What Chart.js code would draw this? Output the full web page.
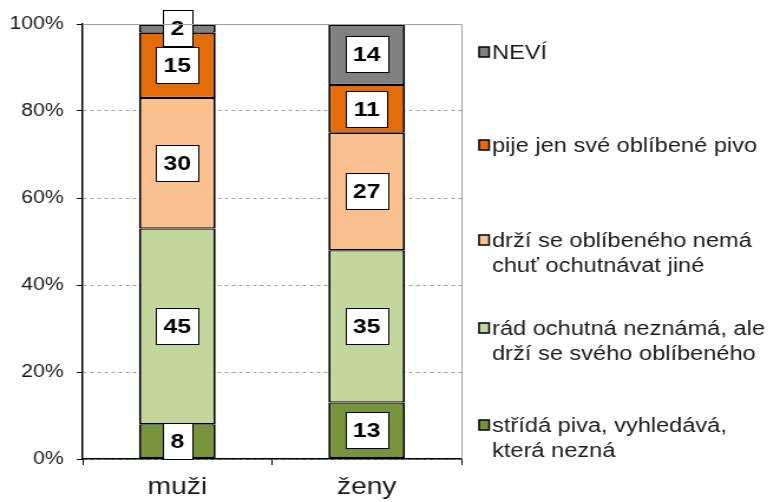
<!DOCTYPE html>
<html>
<head>
<meta charset="utf-8">
<script src="https://cdn.jsdelivr.net/npm/chart.js@4/dist/chart.umd.min.js"></script>
<style>
  html, body { margin: 0; padding: 0; background: #fff; overflow: hidden; }
  /* the original picture is a little wider than tall text would give, so stretch it */
  #wrap { position: relative; width: 658px; height: 502px; transform: scaleX(1.18); transform-origin: 0 0; }
</style>
</head>
<body>
<div id="wrap"><canvas id="chart0" width="658" height="502"></canvas></div>
<script>
// categories and series (bottom to top of the stack)
var categories = ['muži', 'ženy'];
var seriesNames = [
    ['střídá piva, vyhledává,', 'která nezná'],
    ['rád ochutná neznámá, ale', 'drží se svého oblíbeného'],
    ['drží se oblíbeného nemá', 'chuť ochutnávat jiné'],
    ['pije jen své oblíbené pivo'],
    ['NEVÍ']
];
var stridaPiva = [8, 13];
var radOchutna = [45, 35];
var drziSe = [30, 27];
var pijeJen = [15, 11];
var nevi = [2, 14];
var yTicks = [0, 20, 40, 60, 80, 100];

var seriesValues = [stridaPiva, radOchutna, drziSe, pijeJen, nevi];
var seriesColors = ['#77933c', '#c3d69b', '#fac090', '#e46c0a', '#808080'];

var FONT = '"Liberation Sans", Arial, sans-serif';

var last = seriesValues.length - 1;
var datasets = seriesValues.map(function (vals, i) {
    return {
        label: seriesNames[i].join(' '),
        data: vals,
        backgroundColor: seriesColors[i],
        borderColor: '#000',
        // inner joins share one line, outer edges are thicker
        borderWidth: { left: 2, right: 2, top: i === last ? 2 : 1.2, bottom: i === 0 ? 2 : 1.2 },
        borderSkipped: false,
        barPercentage: 0.405,
        categoryPercentage: 1
    };
});

// white boxed value labels in the middle of each segment
var boxLabels = {
    id: 'boxLabels',
    afterDatasetsDraw: function (chart) {
        var ctx = chart.ctx;
        ctx.save();
        ctx.font = 'bold 21px ' + FONT;
        ctx.textAlign = 'center';
        ctx.textBaseline = 'middle';
        chart.data.datasets.forEach(function (ds, di) {
            var meta = chart.getDatasetMeta(di);
            meta.data.forEach(function (bar, i) {
                var txt = String(ds.data[i]);
                var cy = (bar.y + bar.base) / 2;
                var w = Math.round(ctx.measureText(txt).width + 13);
                var h = 36;
                var x0 = Math.round(bar.x - w / 2) + 0.5;
                var y0 = Math.round(cy - h / 2) + 0.5;
                ctx.fillStyle = '#fff';
                ctx.fillRect(x0, y0, w, h);
                ctx.strokeStyle = '#000';
                ctx.lineWidth = 1;
                ctx.strokeRect(x0, y0, w, h);
                ctx.fillStyle = '#000';
                ctx.fillText(txt, bar.x, cy + 1);
            });
        });
        ctx.restore();
    }
};

// legend on the right, top series first
var legendY = [52, 145, 240, 328, 425];
var sideLegend = {
    id: 'sideLegend',
    afterDraw: function (chart) {
        var ctx = chart.ctx;
        ctx.save();
        // plot border (top and right)
        var a = chart.chartArea;
        ctx.strokeStyle = '#a0a0a0';
        ctx.lineWidth = 1;
        ctx.beginPath();
        ctx.moveTo(a.left, a.top + 0.5);
        ctx.lineTo(a.right + 0.5, a.top + 0.5);
        ctx.lineTo(a.right + 0.5, a.bottom);
        ctx.stroke();

        ctx.font = '20px ' + FONT;
        ctx.textBaseline = 'middle';
        ctx.textAlign = 'left';
        var order = [4, 3, 2, 1, 0];
        order.forEach(function (si, k) {
            var y = legendY[k];
            ctx.fillStyle = seriesColors[si];
            ctx.fillRect(406, y - 5, 8.5, 10);
            ctx.strokeStyle = '#000';
            ctx.lineWidth = 1.5;
            ctx.strokeRect(406, y - 5, 8.5, 10);
            ctx.fillStyle = '#1a1a1a';
            seriesNames[si].forEach(function (line, li) {
                ctx.fillText(line, 417, y + 1 + li * 25);
            });
        });
        ctx.restore();
    }
};

var ctx0 = document.getElementById('chart0').getContext('2d');
var chart = new Chart(ctx0, {
    type: 'bar',
    data: { labels: categories, datasets: datasets },
    options: {
        responsive: false,
        animation: false,
        devicePixelRatio: 1,
        layout: { padding: { top: 24, right: 267, left: 0, bottom: 0 } },
        plugins: {
            legend: { display: false },
            tooltip: { enabled: false }
        },
        scales: {
            x: {
                stacked: true,
                grid: {
                    offset: true,
                    drawOnChartArea: false,
                    drawTicks: true,
                    tickLength: 6,
                    color: '#000'
                },
                border: { color: '#000', width: 1.5 },
                ticks: { color: '#1a1a1a', font: { family: FONT, size: 24 }, padding: 8 },
                afterFit: function (s) { s.height = 43; }
            },
            y: {
                stacked: true,
                min: 0,
                max: 100,
                afterBuildTicks: function (s) {
                    s.ticks = yTicks.map(function (v) { return { value: v }; });
                },
                grid: {
                    color: function (c) { return c.tick && c.tick.value === 100 ? 'rgba(0,0,0,0)' : '#a0a0a0'; },
                    drawTicks: true,
                    tickLength: 5,
                    tickColor: '#000',
                    tickBorderDash: []
                },
                border: { color: '#000', width: 1.5, dash: [3, 3] },
                ticks: {
                    color: '#1a1a1a',
                    font: { family: FONT, size: 18 },
                    padding: 11,
                    callback: function (v) { return v + '%'; }
                },
                afterFit: function (s) { s.width = 70; }
            }
        }
    },
    plugins: [boxLabels, sideLegend]
});
</script>
</body>
</html>
